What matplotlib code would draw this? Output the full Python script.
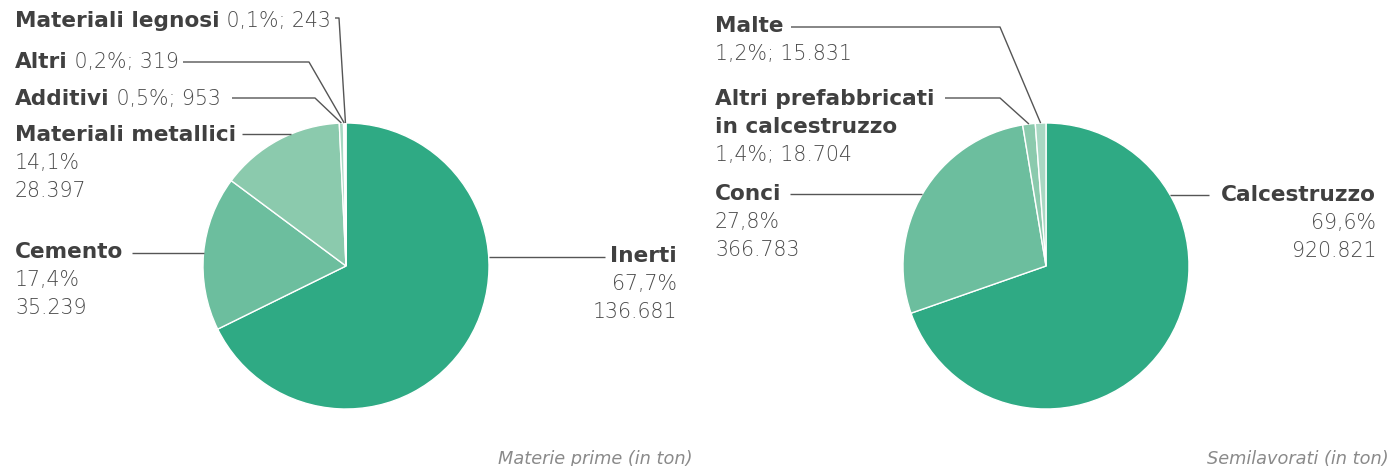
import numpy as np
import matplotlib
matplotlib.use("Agg")
import matplotlib.pyplot as plt

# Materie prime (ton)
raw_names = ["Inerti", "Cemento", "Materiali metallici", "Additivi", "Altri", "Materiali legnosi"]
raw_values = [136681, 35239, 28397, 953, 319, 243]
raw_pct = ["67,7%", "17,4%", "14,1%", "0,5%", "0,2%", "0,1%"]
raw_labels = ["136.681", "35.239", "28.397", "953", "319", "243"]

# Semilavorati (ton)
semi_names = ["Calcestruzzo", "Conci", "Altri prefabbricati\nin calcestruzzo", "Malte"]
semi_values = [920821, 366783, 18704, 15831]
semi_pct = ["69,6%", "27,8%", "1,4%", "1,2%"]
semi_labels = ["920.821", "366.783", "18.704", "15.831"]

raw_colors = ["#2faa84", "#6cbe9e", "#8bcaad", "#a9d8c3", "#c2e4d4", "#d8eee3"]
semi_colors = ["#2faa84", "#6cbe9e", "#8bcaad", "#a9d8c3"]

W, H = 1391, 466
DARK = "#404040"
LIGHT = "#4a4a4a"
FS = 15.6
FS_L = 14.8


def Y(y):
    # pixel rows counted from the top
    return H - y


fig = plt.figure(figsize=(W / 100, H / 100), dpi=100)
ax = fig.add_axes([0, 0, 1, 1])


def draw_pie(values, colors, cx, cy, r):
    wedges, _ = ax.pie(values, colors=colors, startangle=90, counterclock=False,
                       center=(cx, Y(cy)), radius=r, frame=True,
                       wedgeprops=dict(edgecolor="white", linewidth=1.0))
    return wedges


def mid_point(wedge, cx, cy, r):
    a = np.deg2rad((wedge.theta1 + wedge.theta2) / 2)
    return cx + r * np.cos(a), cy - r * np.sin(a)


def edge_at(cx, cy, r, y, side):
    dx = np.sqrt(r ** 2 - (y - cy) ** 2)
    return cx + side * dx


def leader(points):
    xs = [p[0] for p in points]
    ys = [Y(p[1]) for p in points]
    ax.plot(xs, ys, color="#555555", lw=1.0, solid_capstyle="butt")


def inline_label(x, y, name, tail):
    t = ax.text(x, Y(y), name, fontsize=FS, fontweight="bold", color=DARK,
                ha="left", va="center")
    ax.annotate(" " + tail, xy=(1, 0), xycoords=t, fontsize=FS_L,
                fontweight="light", color=LIGHT, ha="left", va="bottom")


def block_label(x, y, name, lines, ha="left", step=28):
    rows = name.split("\n")
    for i, nm in enumerate(rows):
        ax.text(x, Y(y + step * i), nm, fontsize=FS, fontweight="bold",
                color=DARK, ha=ha, va="center")
    for i, ln in enumerate(lines):
        ax.text(x, Y(y + step * (len(rows) + i)), ln, fontsize=FS_L,
                fontweight="light", color=LIGHT, ha=ha, va="center")


# --- left pie ---
cx1, cy1, r = 346, 266, 143
w1 = draw_pie(raw_values, raw_colors, cx1, cy1, r)

inline_label(15, 21, raw_names[5], f"{raw_pct[5]}; {raw_labels[5]}")
inline_label(15, 62, raw_names[4], f"{raw_pct[4]}; {raw_labels[4]}")
inline_label(15, 99, raw_names[3], f"{raw_pct[3]}; {raw_labels[3]}")
block_label(15, 135, raw_names[2], [raw_pct[2], raw_labels[2]])
block_label(15, 252, raw_names[1], [raw_pct[1], raw_labels[1]])
block_label(677, 256, raw_names[0], [raw_pct[0], raw_labels[0]], ha="right")

px, py = mid_point(w1[5], cx1, cy1, r)
leader([(335, 18), (339, 18), (px, py)])
px, py = mid_point(w1[4], cx1, cy1, r)
leader([(183, 62), (309, 62), (px, py)])
px, py = mid_point(w1[3], cx1, cy1, r)
leader([(232, 98), (315, 98), (px, py)])
leader([(242, 134), (edge_at(cx1, cy1, r, 134, -1), 134)])
leader([(132, 253), (edge_at(cx1, cy1, r, 253, -1), 253)])
leader([(605, 257), (edge_at(cx1, cy1, r, 257, 1), 257)])

# --- right pie ---
cx2 = 1046
w2 = draw_pie(semi_values, semi_colors, cx2, cy1, r)

block_label(715, 26, semi_names[3], [f"{semi_pct[3]}; {semi_labels[3]}"])
block_label(715, 99, semi_names[2], [f"{semi_pct[2]}; {semi_labels[2]}"])
block_label(715, 194, semi_names[1], [semi_pct[1], semi_labels[1]])
block_label(1376, 195, semi_names[0], [semi_pct[0], semi_labels[0]], ha="right")

px, py = mid_point(w2[3], cx2, cy1, r)
leader([(791, 27), (1000, 27), (px, py)])
px, py = mid_point(w2[2], cx2, cy1, r)
leader([(945, 98), (1000, 98), (px, py)])
leader([(790, 194), (edge_at(cx2, cy1, r, 194, -1), 194)])
leader([(1209, 195), (edge_at(cx2, cy1, r, 195, 1), 195)])

# captions
ax.text(692, Y(464), "Materie prime (in ton)", fontsize=12.8, style="italic",
        fontweight="light", color="#8a8a8a", ha="right", va="baseline")
ax.text(1389, Y(464), "Semilavorati (in ton)", fontsize=12.8, style="italic",
        fontweight="light", color="#8a8a8a", ha="right", va="baseline")

ax.set_xlim(0, W)
ax.set_ylim(0, H)
ax.set_aspect("auto")
ax.axis("off")

fig.savefig("out.png", dpi=100)
